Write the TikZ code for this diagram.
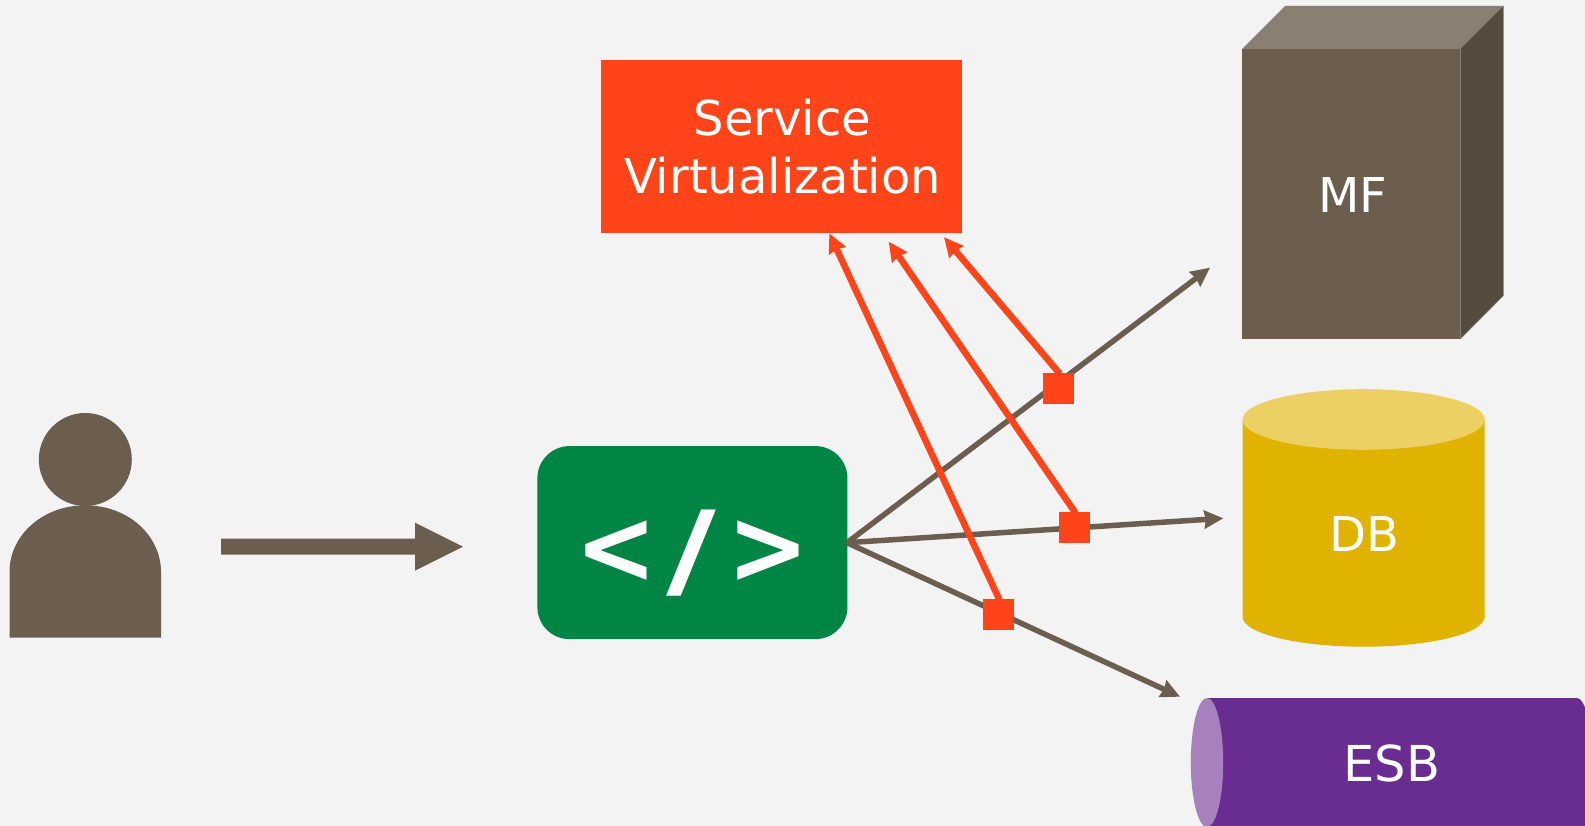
\documentclass[tikz,border=0pt]{standalone}
\usepackage{fontspec}
\usepackage{graphicx}
\setmainfont{DejaVu Sans}
\usetikzlibrary{arrows.meta}
\definecolor{bgc}{HTML}{F3F3F3}
\definecolor{brownc}{HTML}{6B5E4F}
\definecolor{browntop}{HTML}{897F72}
\definecolor{brownside}{HTML}{564B3F}
\definecolor{greenc}{HTML}{008545}
\definecolor{orangec}{HTML}{FF4419}
\definecolor{purplec}{HTML}{692C91}
\definecolor{purplelt}{HTML}{A781BD}
\definecolor{goldc}{HTML}{E0B300}
\definecolor{goldlt}{HTML}{EDD063}
\tikzset{
  label text/.style={text=white,font=\fontsize{48}{58}\selectfont,align=center,inner sep=0pt,anchor=base},
  brown link/.style={draw=brownc,line width=5.5pt,-{Stealth[length=19pt,width=18pt,inset=1.5pt]}},
  orange link/.style={draw=orangec,line width=6.5pt,-{Stealth[length=19pt,width=18pt,inset=1.5pt]}},
  tap/.style={rectangle,fill=orangec,minimum size=31pt,inner sep=0pt,outer sep=0pt},
}
\begin{document}
\begin{tikzpicture}[x=1pt,y=-1pt]
\useasboundingbox (0,0) rectangle (1585,826);
\fill[bgc] (0,0) rectangle (1585,826);
% person
\node[circle,fill=brownc,minimum size=93pt,inner sep=0pt] (head) at (85.3,459.5) {};
\fill[brownc] (9.5,637.5) -- (9.5,572) .. controls (9.5,535) and (43,505.3) .. (85.3,505.3)
  .. controls (127.5,505.3) and (161,535) .. (161,572) -- (161,637.5) -- cycle;
% block arrow
\fill[brownc] (221,538.7) -- (415,538.7) -- (415,522.7) -- (463,546.7) -- (415,570.7) -- (415,554.7) -- (221,554.7) -- cycle;
% service virtualization
\node[rectangle,fill=orangec,minimum width=361pt,minimum height=173pt,inner sep=0pt,outer sep=0pt] (sv) at (781.5,146.5) {};
\node[label text] (svt1) at (782.5,136) {Service};
\node[label text] (svt2) at (782.5,194) {Virtualization};
% code
\node[rectangle,fill=greenc,rounded corners=32pt,minimum width=310pt,minimum height=193pt,inner sep=0pt,outer sep=0pt] (code) at (692.4,542.6) {};
\node[text=white,font=\bfseries\fontsize{105}{105}\selectfont,inner sep=0pt,anchor=base] (codet) at (692.5,586) {\raisebox{2.5pt}{\scalebox{.93}[1]{<}}\hspace{9pt}\scalebox{1.3}[1]{/}\hspace{11pt}\raisebox{2.5pt}{\scalebox{.93}[1]{>}}};
% MF box
\fill[browntop] (1242,49) -- (1285,6) -- (1503.3,6) -- (1460.3,49) -- cycle;
\fill[brownside] (1460.3,49) -- (1503.3,6) -- (1503.3,295.7) -- (1460.3,339) -- cycle;
\node[rectangle,fill=brownc,minimum width=218.3pt,minimum height=290pt,inner sep=0pt,outer sep=0pt] (mf) at (1351.15,194) {};
\draw[browntop,line width=.6pt] (1460.3,49) -- (1460.3,339) -- (1503.3,295.7) -- (1503.3,6);
\node[label text] (mft) at (1352.7,212.7) {MF};
% DB
\fill[goldc] (1242.5,420) -- (1242.5,616.7) .. controls (1242.5,633.3) and (1296.7,646.7) .. (1363.6,646.7)
  .. controls (1430.5,646.7) and (1484.7,633.3) .. (1484.7,616.7) -- (1484.7,420) -- cycle;
\fill[goldlt] (1363.6,419.5) ellipse [x radius=121.1pt,y radius=30.3pt];
\node[label text] (dbt) at (1364.5,551.7) {DB};
% ESB
\begin{scope}
\clip (0,0) rectangle (1585,826);
\fill[purplec] (1207,698) -- (1577,698) .. controls (1581,698) and (1584,704) .. (1590,720) -- (1590,830) -- (1207,830) -- cycle;
\fill[purplelt] (1207,762.5) ellipse [x radius=16.2pt,y radius=64.5pt];
\end{scope}
\node[label text,font=\fontsize{49.5}{58}\selectfont] (esbt) at (1392,781.7) {ESB};
% free ends of connectors
\coordinate (hub) at (847,542.7);
\coordinate (mfin) at (1210,267.7);
\coordinate (dbin) at (1223.3,518.3);
\coordinate (esbin) at (1180,696.7);
\coordinate (sva) at (829.3,233.3);
\coordinate (svb) at (888.7,241.7);
\coordinate (svc) at (944,237.3);
% brown connectors
\draw[brown link] (hub) -- (mfin);
\draw[brown link] (hub) -- (dbin);
\draw[brown link] (hub) -- (esbin);
% taps
\coordinate (tapaS) at (999.5,600);
\coordinate (tapbS) at (1075.5,513);
\coordinate (tapcS) at (1060,374);
\draw[orange link] (tapaS) -- (sva);
\draw[orange link] (tapbS) -- (svb);
\draw[orange link] (tapcS) -- (svc);
\node[tap] (tapa) at (998.5,614.5) {};
\node[tap] (tapb) at (1074.5,527.5) {};
\node[tap] (tapc) at (1058.5,388.5) {};
\end{tikzpicture}
\end{document}
